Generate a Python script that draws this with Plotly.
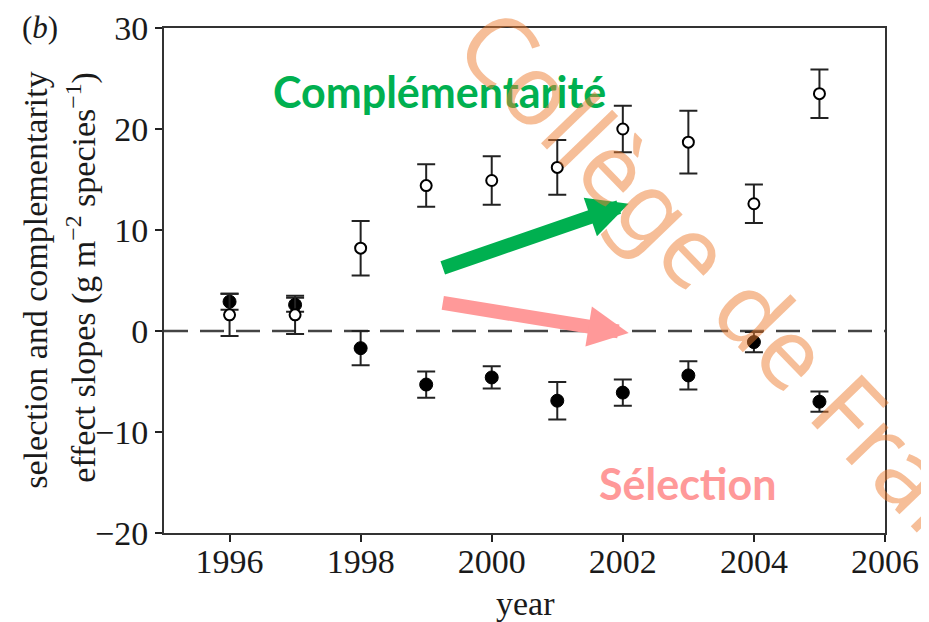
import plotly.graph_objects as go

# data
years = [1996, 1997, 1998, 1999, 2000, 2001, 2002, 2003, 2004, 2005]
compl = [1.6, 1.6, 8.2, 14.4, 14.9, 16.2, 20.0, 18.7, 12.6, 23.5]
compl_err = [2.1, 1.9, 2.7, 2.1, 2.4, 2.7, 2.3, 3.1, 1.9, 2.4]
select = [2.9, 2.6, -1.7, -5.3, -4.6, -6.9, -6.1, -4.4, -1.1, -7.0]
select_err = [0.8, 0.7, 1.7, 1.3, 1.1, 1.85, 1.3, 1.4, 1.0, 1.0]

x_ticks = [1996, 1998, 2000, 2002, 2004, 2006]
y_ticks = [-20, -10, 0, 10, 20, 30]

serif = "Liberation Serif, Times New Roman, serif"
sans = "Lato, Noto Sans, sans-serif"
green = "#00B050"
pink = "#FF9999"
ink = "#1a1a1a"

fig = go.Figure()

# selection effect (filled)
fig.add_trace(go.Scatter(
    x=years, y=select, mode='markers', name='selection',
    marker=dict(color='black', size=13, line=dict(color='black', width=1)),
    error_y=dict(type='data', array=select_err, color='#222', thickness=2, width=9),
))

# complementarity effect (open)
fig.add_trace(go.Scatter(
    x=years, y=compl, mode='markers', name='complementarity',
    marker=dict(color='white', size=11, line=dict(color='black', width=2)),
    error_y=dict(type='data', array=compl_err, color='#222', thickness=2, width=9),
))

# dashed zero line
fig.add_shape(type='line', x0=1995, x1=2006, y0=0, y1=0, xref='x', yref='y',
              line=dict(color='#444', width=2.5, dash='24px,12px'), layer='below')

annotations = [
    # arrows
    dict(x=2002.09, y=12.6, ax=1999.23, ay=6.2, xref='x', yref='y', axref='x', ayref='y',
         text='', showarrow=True, arrowhead=2, arrowwidth=14, arrowsize=0.58, arrowcolor=green),
    dict(x=2002.09, y=-0.2, ax=1999.23, ay=2.8, xref='x', yref='y', axref='x', ayref='y',
         text='', showarrow=True, arrowhead=2, arrowwidth=14, arrowsize=0.58, arrowcolor=pink),
    # labels
    dict(x=1999.2, y=23.7, xref='x', yref='y', text='<b>Complémentarité</b>', showarrow=False,
         font=dict(family=sans, size=43, color=green)),
    dict(x=2002.98, y=-15.1, xref='x', yref='y', text='<b>Sélection</b>', showarrow=False,
         font=dict(family=sans, size=43, color=pink)),
    # panel letter (box kept inside the figure)
    dict(x=-0.172, y=1.0396, xref='paper', yref='paper', text='(<i>b</i>)', showarrow=False,
         xanchor='center', yanchor='top', font=dict(family=serif, size=31, color=ink)),
    # y axis title, two lines
    dict(x=-0.178, y=0.501, xref='paper', yref='paper', textangle=-90, showarrow=False,
         xanchor='center', yanchor='middle',
         text='selection and complementarity',
         font=dict(family=serif, size=34, color=ink)),
    dict(x=-0.114, y=0.507, xref='paper', yref='paper', textangle=-90, showarrow=False,
         xanchor='center', yanchor='middle',
         text='effect slopes (g m<sup>\u22122</sup> species<sup>\u22121</sup>)',
         font=dict(family=serif, size=34, color=ink)),
    # x axis title
    dict(x=0.5007, y=-0.139, xref='paper', yref='paper', text='year', showarrow=False,
         xanchor='center', yanchor='middle', font=dict(family=serif, size=34, color=ink)),
    # watermark
    dict(x=0.829, y=0.428, xref='paper', yref='paper', text='Collège de France', textangle=46,
         showarrow=False, xanchor='center', yanchor='middle',
         font=dict(family='Noto Sans, sans-serif', size=98, color='rgba(237,125,49,0.5)')),
]

# page body adds an 8px offset, so the figure is 8px smaller on each side
fig.update_layout(
    width=921, height=614,
    margin=dict(l=156, r=44, t=20, b=89),
    paper_bgcolor='white', plot_bgcolor='white',
    showlegend=False,
    annotations=annotations,
    xaxis=dict(
        range=[1995, 2006], tickvals=x_ticks, ticks='outside', ticklen=7, tickwidth=1.5,
        tickcolor='#222', showgrid=False, zeroline=False, showline=True, linecolor='#333',
        linewidth=2, mirror=True, ticklabelstandoff=-10, automargin=False,
        tickfont=dict(family=serif, size=34, color=ink),
    ),
    yaxis=dict(
        range=[-20, 30], tickvals=y_ticks, ticks='outside', ticklen=7, tickwidth=1.5,
        tickcolor='#222', showgrid=False, zeroline=False, showline=True, linecolor='#333',
        linewidth=2, mirror=True, automargin=False,
        tickfont=dict(family=serif, size=34, color=ink),
    ),
)

fig.write_html("out.html")
